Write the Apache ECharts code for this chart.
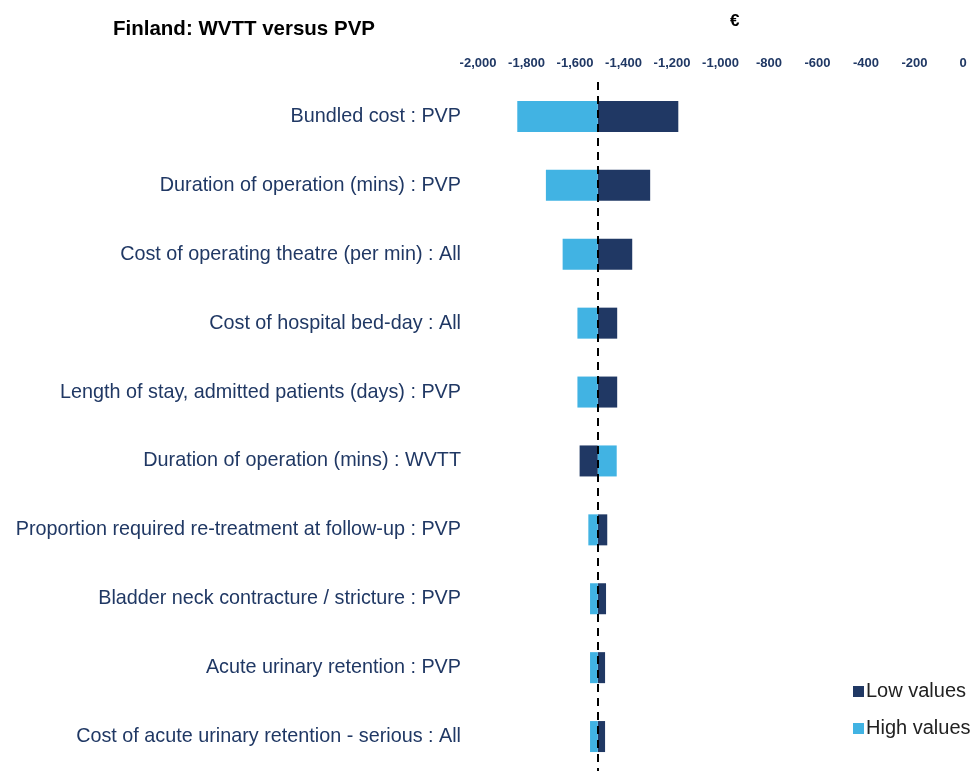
<!DOCTYPE html>
<html>
<head>
<meta charset="utf-8">
<script src="https://cdn.jsdelivr.net/npm/echarts@6/dist/echarts.min.js"></script>
<style>
  html, body { margin: 0; padding: 0; background: #fff; }
  #main { width: 976px; height: 771px; }
</style>
</head>
<body>
<div id="main"></div>
<script>
// tornado: Finland WVTT vs PVP
var categories = [
  'Bundled cost : PVP',
  'Duration of operation (mins) : PVP',
  'Cost of operating theatre (per min) : All',
  'Cost of hospital bed-day : All',
  'Length of stay, admitted patients (days) : PVP',
  'Duration of operation (mins) : WVTT',
  'Proportion required re-treatment at follow-up : PVP',
  'Bladder neck contracture / stricture : PVP',
  'Acute urinary retention : PVP',
  'Cost of acute urinary retention - serious : All'
];
var baseValue = -1506;
var lowValues = [-1174, -1290, -1364, -1426, -1426, -1581, -1467, -1472, -1476, -1476];
var highValues = [-1838, -1720, -1651, -1590, -1590, -1428, -1545, -1538, -1538, -1538];
var xTicks = { min: -2000, max: 0, interval: 200 };

var navy = '#203864';
var sky = '#41B3E3';

function toData(vals) {
  var out = [];
  for (var i = 0; i < vals.length; i++) {
    out.push([i, baseValue, vals[i]]);
  }
  return out;
}

function renderBar(params, api) {
  var idx = api.value(0);
  var a = api.coord([api.value(1), idx]);
  var b = api.coord([api.value(2), idx]);
  var h = 31;
  return {
    type: 'rect',
    shape: {
      x: Math.min(a[0], b[0]),
      y: a[1] - h / 2,
      width: Math.abs(b[0] - a[0]),
      height: h
    },
    style: { fill: api.visual('color') }
  };
}

var myChart = echarts.init(document.getElementById('main'));

var option = {
  animation: false,
  title: [
    {
      text: 'Finland: WVTT versus PVP',
      left: 108, top: 14,
      textStyle: { fontFamily: 'Liberation Sans', fontWeight: 'bold', fontSize: 20.5, color: '#000' }
    },
    {
      text: '€',
      left: 725, top: 8,
      textStyle: { fontFamily: 'Liberation Sans', fontWeight: 'bold', fontSize: 17, color: '#000' }
    }
  ],
  legend: {
    orient: 'vertical',
    left: 848, top: 676,
    itemWidth: 11, itemHeight: 11, itemGap: 16,
    icon: 'rect',
    data: ['Low values', 'High values'],
    textStyle: { fontFamily: 'Liberation Sans', fontSize: 20, lineHeight: 21, color: '#222', padding: [0, 0, 0, -3] }
  },
  grid: { left: 478, right: 13, top: 82, bottom: -1 },
  xAxis: {
    type: 'value',
    position: 'top',
    min: xTicks.min, max: xTicks.max, interval: xTicks.interval,
    axisLine: { show: false },
    axisTick: { show: false },
    splitLine: { show: false },
    axisLabel: {
      margin: 12,
      fontFamily: 'Liberation Sans', fontWeight: 'bold', fontSize: 13, color: navy,
      formatter: function (v) { return v.toLocaleString('en-US'); }
    }
  },
  yAxis: {
    type: 'category',
    inverse: true,
    data: categories,
    axisLine: { show: false },
    axisTick: { show: false },
    splitLine: { show: false },
    axisLabel: { margin: 17, fontFamily: 'Liberation Sans', fontSize: 19.8, color: navy }
  },
  series: [
    {
      name: 'Low values', type: 'custom',
      renderItem: renderBar,
      itemStyle: { color: navy },
      encode: { x: [1, 2], y: 0 },
      data: toData(lowValues)
    },
    {
      name: 'High values', type: 'custom',
      renderItem: renderBar,
      itemStyle: { color: sky },
      encode: { x: [1, 2], y: 0 },
      data: toData(highValues)
    },
    {
      name: 'base', type: 'line', data: [], z: 10,
      markLine: {
        silent: true, symbol: 'none',
        label: { show: false },
        lineStyle: { color: '#000', type: [8, 6], width: 2 },
        data: [{ xAxis: baseValue }]
      }
    }
  ]
};

myChart.setOption(option);
</script>
</body>
</html>
